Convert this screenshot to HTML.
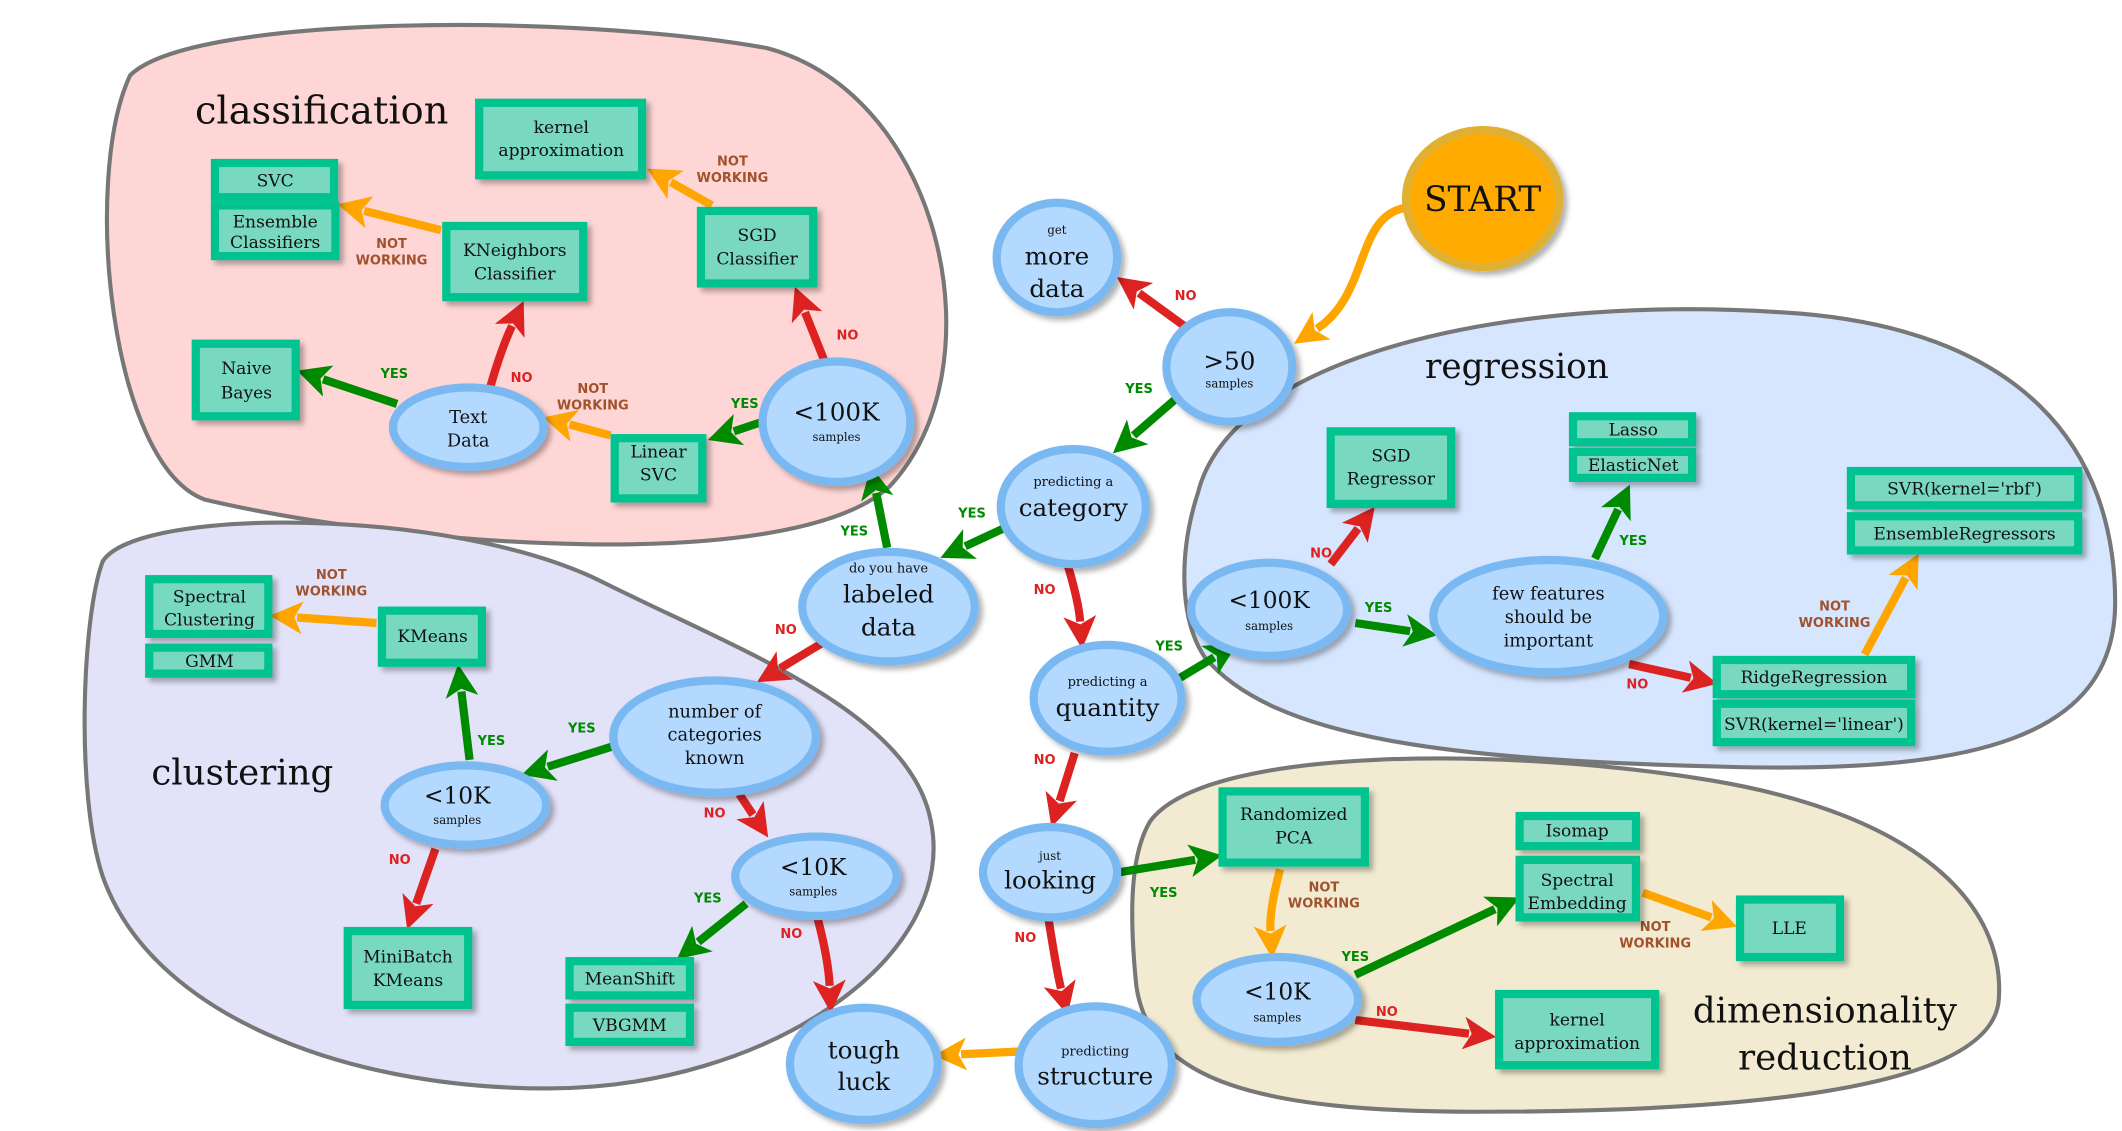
<!DOCTYPE html>
<html><head><meta charset="utf-8"><style>
html,body{margin:0;padding:0;background:#fff}
svg{display:block}
.t{font-family:"DejaVu Serif","Liberation Serif",serif;fill:#111;text-anchor:middle}
.l{font-family:"DejaVu Sans","Liberation Sans",sans-serif;font-weight:bold;font-size:9.5px;text-anchor:middle}
.y{fill:#008a00}.n{fill:#dd2222}.w{fill:#a0522d}
.e{fill:#b3d9ff;stroke:#7ab8f2;stroke-width:6}
.b{fill:#78d8c0;stroke:#00c38f;stroke-width:6}
.ag{stroke:#008a00;stroke-width:6;fill:none;marker-end:url(#mg)}
.ar{stroke:#dd2222;stroke-width:6;fill:none;marker-end:url(#mr)}
.ao{stroke:#ffa500;stroke-width:6;fill:none;marker-end:url(#mo)}
</style></head><body>
<svg width="2122" height="1131" viewBox="0 0 1550 826" xmlns="http://www.w3.org/2000/svg">
<defs>
<marker id="mg" markerUnits="userSpaceOnUse" markerWidth="26" markerHeight="24" refX="4" refY="12" orient="auto"><path d="M0,0 L24,12 L0,24 L6,12 Z" fill="#008a00"/></marker>
<marker id="mr" markerUnits="userSpaceOnUse" markerWidth="26" markerHeight="24" refX="4" refY="12" orient="auto"><path d="M0,0 L24,12 L0,24 L6,12 Z" fill="#dd2222"/></marker>
<marker id="mo" markerUnits="userSpaceOnUse" markerWidth="26" markerHeight="24" refX="4" refY="12" orient="auto"><path d="M0,0 L24,12 L0,24 L6,12 Z" fill="#ffa500"/></marker>
<filter id="sh" x="-20%" y="-20%" width="140%" height="140%"><feDropShadow dx="3" dy="3" stdDeviation="2" flood-color="#000" flood-opacity="0.3"/></filter>
</defs>
<path d="M95,55 C140,10 420,10 560,35 C690,70 730,270 650,355 C580,420 300,400 150,365 C80,340 60,130 95,55 Z" fill="#ffd6d6" stroke="#777" stroke-width="3"/>
<path d="M75,410 C100,370 330,370 440,425 C540,475 665,520 680,600 C700,700 560,795 400,795 C250,795 110,740 75,640 C55,580 60,450 75,410 Z" fill="#e2e2f8" stroke="#777" stroke-width="3"/>
<path d="M875,360 C900,260 1100,215 1300,228 C1480,238 1545,330 1545,440 C1545,540 1440,565 1260,560 C1060,555 930,540 880,480 C860,450 862,400 875,360 Z" fill="#d6e6ff" stroke="#777" stroke-width="3"/>
<path d="M840,600 C880,545 1100,545 1250,570 C1400,595 1465,660 1460,730 C1455,800 1250,812 1080,812 C920,812 840,790 830,720 C825,670 825,625 840,600 Z" fill="#f2ebd2" stroke="#777" stroke-width="3"/>
<text class="t" x="235" y="90" font-size="28">classification</text>
<text class="t" x="1108" y="276" font-size="25">regression</text>
<text class="t" x="177" y="573" font-size="26">clustering</text>
<text class="t" x="1333" y="747" font-size="26">dimensionality</text>
<text class="t" x="1333" y="781" font-size="26">reduction</text>
<path class="ao" d="M1025,152 C990,160 1000,215 962,240"/>
<path class="ar" d="M865,238 L832,214"/>
<path class="ag" d="M858,292 L828,318"/>
<path class="ag" d="M735,385 L705,399"/>
<path class="ar" d="M780,413 Q788,440 789,454"/>
<path class="ag" d="M648,400 L640,360"/>
<path class="ag" d="M560,307 L536,315"/>
<path class="ar" d="M602,263 L588,228"/>
<path class="ao" d="M520,150 L490,133"/>
<path class="ao" d="M446,318 L416,310"/>
<path class="ag" d="M290,295 L236,277"/>
<path class="ar" d="M358,283 Q366,255 374,238"/>
<path class="ao" d="M322,168 L266,154"/>
<path class="ar" d="M600,470 L570,488"/>
<path class="ag" d="M448,545 L400,560"/>
<path class="ar" d="M540,580 L550,595"/>
<path class="ag" d="M343,555 L337,505"/>
<path class="ar" d="M318,620 L304,660"/>
<path class="ao" d="M275,455 L217,451"/>
<path class="ag" d="M545,660 L510,688"/>
<path class="ar" d="M597,670 Q605,700 606,720"/>
<path class="ag" d="M862,495 L887,480"/>
<path class="ar" d="M785,550 L774,585"/>
<path class="ar" d="M972,412 L992,386"/>
<path class="ag" d="M990,455 L1030,461"/>
<path class="ag" d="M1165,408 L1182,372"/>
<path class="ar" d="M1190,485 L1235,495"/>
<path class="ao" d="M1362,478 L1392,422"/>
<path class="ag" d="M818,637 L873,628"/>
<path class="ar" d="M766,672 Q772,710 775,722"/>
<path class="ao" d="M745,768 L702,770"/>
<path class="ao" d="M935,635 Q927,665 928,680"/>
<path class="ag" d="M990,712 L1092,664"/>
<path class="ar" d="M990,745 L1073,755"/>
<path class="ao" d="M1200,652 L1250,670"/>
<text class="l n" x="866" y="219">NO</text>
<text class="l y" x="832" y="287">YES</text>
<text class="l y" x="710" y="378">YES</text>
<text class="l n" x="763" y="434">NO</text>
<text class="l y" x="624" y="391">YES</text>
<text class="l y" x="544" y="298">YES</text>
<text class="l n" x="619" y="248">NO</text>
<text class="l w" x="535" y="121">NOT</text><text class="l w" x="535" y="133">WORKING</text>
<text class="l w" x="433" y="287">NOT</text><text class="l w" x="433" y="299">WORKING</text>
<text class="l y" x="288" y="276">YES</text>
<text class="l n" x="381" y="279">NO</text>
<text class="l w" x="286" y="181">NOT</text><text class="l w" x="286" y="193">WORKING</text>
<text class="l n" x="574" y="463">NO</text>
<text class="l y" x="425" y="535">YES</text>
<text class="l n" x="522" y="597">NO</text>
<text class="l y" x="359" y="544">YES</text>
<text class="l n" x="292" y="631">NO</text>
<text class="l w" x="242" y="423">NOT</text><text class="l w" x="242" y="435">WORKING</text>
<text class="l y" x="517" y="659">YES</text>
<text class="l n" x="578" y="685">NO</text>
<text class="l y" x="854" y="475">YES</text>
<text class="l n" x="763" y="558">NO</text>
<text class="l n" x="965" y="407">NO</text>
<text class="l y" x="1007" y="447">YES</text>
<text class="l y" x="1193" y="398">YES</text>
<text class="l n" x="1196" y="503">NO</text>
<text class="l w" x="1340" y="446">NOT</text><text class="l w" x="1340" y="458">WORKING</text>
<text class="l y" x="850" y="655">YES</text>
<text class="l n" x="749" y="688">NO</text>
<text class="l w" x="967" y="651">NOT</text><text class="l w" x="967" y="663">WORKING</text>
<text class="l y" x="990" y="702">YES</text>
<text class="l n" x="1013" y="742">NO</text>
<text class="l w" x="1209" y="680">NOT</text><text class="l w" x="1209" y="692">WORKING</text>
<g filter="url(#sh)">
<ellipse cx="1083" cy="145" rx="56" ry="50" fill="#ffaa00" stroke="#e0b030" stroke-width="6"/>
<ellipse class="e" cx="772" cy="188" rx="44" ry="40"/>
<ellipse class="e" cx="898" cy="268" rx="46" ry="40"/>
<ellipse class="e" cx="784" cy="370" rx="53" ry="42"/>
<ellipse class="e" cx="649" cy="443" rx="63" ry="40"/>
<ellipse class="e" cx="611" cy="308" rx="54" ry="44"/>
<ellipse class="e" cx="342" cy="312" rx="55" ry="29"/>
<ellipse class="e" cx="522" cy="538" rx="74" ry="41"/>
<ellipse class="e" cx="340" cy="588" rx="59" ry="29"/>
<ellipse class="e" cx="596" cy="640" rx="59" ry="29"/>
<ellipse class="e" cx="631" cy="777" rx="54" ry="41"/>
<ellipse class="e" cx="800" cy="778" rx="56" ry="43"/>
<ellipse class="e" cx="767" cy="637" rx="49" ry="33"/>
<ellipse class="e" cx="809" cy="510" rx="54" ry="39"/>
<ellipse class="e" cx="927" cy="445" rx="57" ry="34"/>
<ellipse class="e" cx="1131" cy="450" rx="84" ry="41"/>
<ellipse class="e" cx="933" cy="730" rx="59" ry="31"/>
</g>
<text class="t" x="1083" y="154" font-size="25">START</text>
<text class="t" x="772" y="171" font-size="8.5">get</text>
<text class="t" x="772" y="193" font-size="18">more</text>
<text class="t" x="772" y="217" font-size="18">data</text>
<text class="t" x="898" y="270" font-size="18">&gt;50</text>
<text class="t" x="898" y="283" font-size="8.5">samples</text>
<text class="t" x="784" y="355" font-size="9.5">predicting a</text>
<text class="t" x="784" y="377" font-size="18">category</text>
<text class="t" x="649" y="418" font-size="9.5">do you have</text>
<text class="t" x="649" y="440" font-size="18">labeled</text>
<text class="t" x="649" y="464" font-size="18">data</text>
<text class="t" x="611" y="307" font-size="18">&lt;100K</text>
<text class="t" x="611" y="322" font-size="8.5">samples</text>
<text class="t" x="342" y="309" font-size="13">Text</text>
<text class="t" x="342" y="326" font-size="13">Data</text>
<text class="t" x="522" y="524" font-size="13">number of</text>
<text class="t" x="522" y="541" font-size="13">categories</text>
<text class="t" x="522" y="558" font-size="13">known</text>
<text class="t" x="334" y="587" font-size="17">&lt;10K</text>
<text class="t" x="334" y="602" font-size="8.5">samples</text>
<text class="t" x="594" y="639" font-size="17">&lt;10K</text>
<text class="t" x="594" y="654" font-size="8.5">samples</text>
<text class="t" x="631" y="773" font-size="18">tough</text>
<text class="t" x="631" y="796" font-size="18">luck</text>
<text class="t" x="800" y="771" font-size="9.5">predicting</text>
<text class="t" x="800" y="792" font-size="18">structure</text>
<text class="t" x="767" y="628" font-size="8.5">just</text>
<text class="t" x="767" y="649" font-size="18">looking</text>
<text class="t" x="809" y="501" font-size="9.5">predicting a</text>
<text class="t" x="809" y="523" font-size="18">quantity</text>
<text class="t" x="927" y="444" font-size="17">&lt;100K</text>
<text class="t" x="927" y="460" font-size="8.5">samples</text>
<text class="t" x="1131" y="438" font-size="13">few features</text>
<text class="t" x="1131" y="455" font-size="13">should be</text>
<text class="t" x="1131" y="472" font-size="13">important</text>
<text class="t" x="933" y="730" font-size="17">&lt;10K</text>
<text class="t" x="933" y="746" font-size="8.5">samples</text>
<g filter="url(#sh)">
<rect class="b" x="350" y="75" width="119" height="53"/>
<rect class="b" x="157" y="119" width="87" height="25"/>
<rect class="b" x="157" y="150" width="88" height="37"/>
<rect class="b" x="326" y="165" width="100" height="52"/>
<rect class="b" x="512" y="154" width="82" height="53"/>
<rect class="b" x="143" y="251" width="73" height="53"/>
<rect class="b" x="449" y="320" width="64" height="44"/>
<rect class="b" x="109" y="423" width="87" height="40"/>
<rect class="b" x="109" y="473" width="87" height="19"/>
<rect class="b" x="279" y="446" width="73" height="38"/>
<rect class="b" x="254" y="680" width="88" height="54"/>
<rect class="b" x="416" y="702" width="88" height="25"/>
<rect class="b" x="416" y="736" width="88" height="25"/>
<rect class="b" x="972" y="315" width="88" height="53"/>
<rect class="b" x="1149" y="304" width="87" height="19"/>
<rect class="b" x="1149" y="330" width="87" height="19"/>
<rect class="b" x="1352" y="344" width="166" height="25"/>
<rect class="b" x="1352" y="377" width="166" height="25"/>
<rect class="b" x="1254" y="482" width="142" height="25"/>
<rect class="b" x="1254" y="514" width="142" height="28"/>
<rect class="b" x="893" y="578" width="104" height="52"/>
<rect class="b" x="1110" y="596" width="85" height="22"/>
<rect class="b" x="1110" y="628" width="85" height="42"/>
<rect class="b" x="1271" y="657" width="73" height="42"/>
<rect class="b" x="1095" y="726" width="114" height="52"/>
</g>
<g font-size="12.5">
<text class="t" x="410" y="97">kernel</text><text class="t" x="410" y="114">approximation</text>
<text class="t" x="201" y="136">SVC</text>
<text class="t" x="201" y="166">Ensemble</text><text class="t" x="201" y="181">Classifiers</text>
<text class="t" x="376" y="187">KNeighbors</text><text class="t" x="376" y="204">Classifier</text>
<text class="t" x="553" y="176">SGD</text><text class="t" x="553" y="193">Classifier</text>
<text class="t" x="180" y="273">Naive</text><text class="t" x="180" y="291">Bayes</text>
<text class="t" x="481" y="334">Linear</text><text class="t" x="481" y="351">SVC</text>
<text class="t" x="153" y="440">Spectral</text><text class="t" x="153" y="457">Clustering</text>
<text class="t" x="153" y="487">GMM</text>
<text class="t" x="316" y="469">KMeans</text>
<text class="t" x="298" y="703">MiniBatch</text><text class="t" x="298" y="720">KMeans</text>
<text class="t" x="460" y="719">MeanShift</text>
<text class="t" x="460" y="753">VBGMM</text>
<text class="t" x="1016" y="337">SGD</text><text class="t" x="1016" y="354">Regressor</text>
<text class="t" x="1193" y="318">Lasso</text>
<text class="t" x="1193" y="344">ElasticNet</text>
<text class="t" x="1435" y="361">SVR(kernel='rbf')</text>
<text class="t" x="1435" y="394">EnsembleRegressors</text>
<text class="t" x="1325" y="499">RidgeRegression</text>
<text class="t" x="1325" y="533">SVR(kernel='linear')</text>
<text class="t" x="945" y="599">Randomized</text><text class="t" x="945" y="616">PCA</text>
<text class="t" x="1152" y="611">Isomap</text>
<text class="t" x="1152" y="647">Spectral</text><text class="t" x="1152" y="664">Embedding</text>
<text class="t" x="1307" y="682">LLE</text>
<text class="t" x="1152" y="749">kernel</text><text class="t" x="1152" y="766">approximation</text>
</g>
</svg>
</body></html>
